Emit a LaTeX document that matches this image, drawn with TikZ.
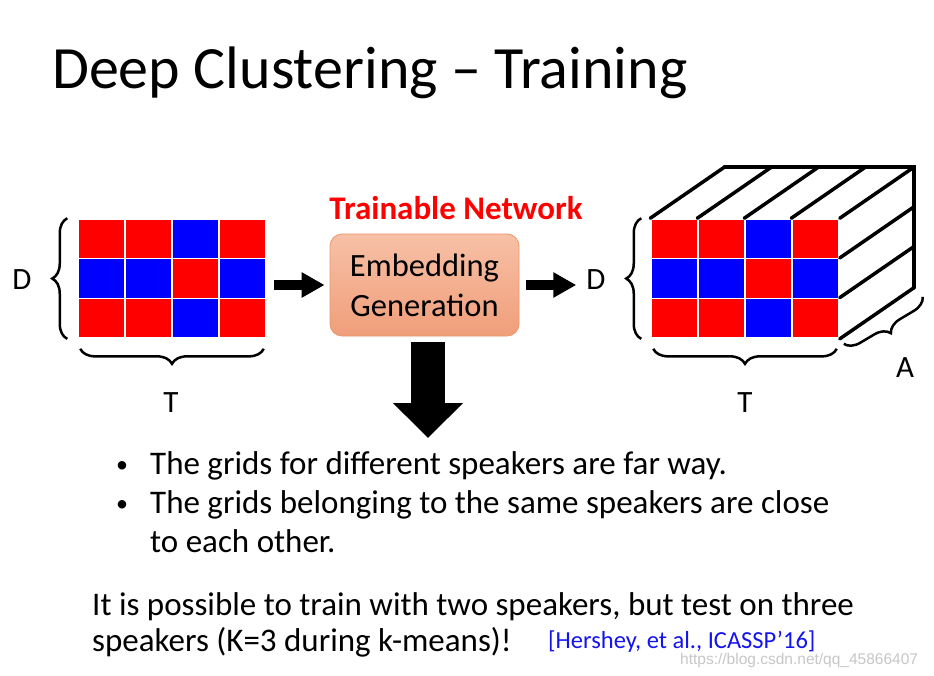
\documentclass[tikz,border=0pt]{standalone}
\usepackage{fontspec}
\setmainfont{Carlito}
\newfontfamily\wmfont{Liberation Sans}
\usetikzlibrary{arrows.meta,decorations.pathreplacing,positioning,calc}

\definecolor{cellred}{RGB}{255,0,0}
\definecolor{cellblue}{RGB}{0,0,255}
\definecolor{boxtop}{RGB}{247,192,166}
\definecolor{boxbot}{RGB}{240,158,122}
\definecolor{boxline}{RGB}{236,150,110}
\definecolor{citeblue}{RGB}{20,20,240}

\begin{document}
\begin{tikzpicture}[x=1pt, y=-1pt,
    cell/.style={draw=white, line width=1.5pt, minimum width=47pt, minimum height=39.7pt, inner sep=0pt},
    lbl/.style={font=\fontsize{31}{36}\selectfont, inner sep=0pt},
    brc/.style={decorate, decoration={brace, amplitude=15pt}, line width=2.5pt},
    fatarrow/.style={line width=10pt, -{Triangle[length=23pt, width=24pt]}},
    edge3d/.style={line width=3.5pt, line cap=round},
    txt/.style={anchor=base west, inner sep=0pt, font=\fontsize{33}{39}\selectfont},
    dot/.style={anchor=base, inner sep=0pt, font=\fontsize{24}{28}\selectfont},
]
% Page frame
\fill[white] (0,0) rectangle (934,676);
\useasboundingbox (0,0) rectangle (934,676);

% Title
\node[txt, font=\fontsize{60}{72}\selectfont] (title) at (52,89) {Deep Clustering – Training};

% Input spectrogram grid and embedding grid (front face)
\foreach \r/\row in {1/{cellred,cellred,cellblue,cellred}, 2/{cellblue,cellblue,cellred,cellblue}, 3/{cellred,cellred,cellblue,cellred}}
  \foreach \c [count=\k] in \row {
    \node[cell, fill=\c] (L-\r-\k) at ({78+47*(\k-0.5)}, {219+39.7*(\r-0.5)}) {};
    \node[cell, fill=\c] (R-\r-\k) at ({651+47*(\k-0.5)}, {219+39.7*(\r-0.5)}) {};
  }

% Braces of the input grid
\draw[brc] ([xshift=-10pt]L-3-1.south west) -- ([xshift=-10pt]L-1-1.north west);
\node[lbl] (dL) at (22,280) {D};
\draw[brc] ([xshift=-3pt, yshift=-10pt]L-3-4.south east) -- ([xshift=3pt, yshift=-10pt]L-3-1.south west);
\node[lbl] (tL) at (171,403) {T};

% Network block
\node[font=\fontsize{33}{38}\selectfont\bfseries, text=cellred, inner sep=0pt] (train) at (456,208) {Trainable Network};
\node[draw=boxline, line width=0.8pt, rounded corners=12pt, top color=boxtop, bottom color=boxbot,
      minimum width=189pt, minimum height=102pt, align=center,
      font=\fontsize{32.5}{40}\selectfont] (emb) at (424.5,285) {Embedding\\Generation};

% Right depth labels
\node[lbl] (dR) at (596,280) {D};
\node[lbl] (tR) at (745,403) {T};
\node[lbl] (aR) at (905,368) {A};

% Arrows
\draw[fatarrow, shorten <=7pt, shorten >=5pt] (L-2-4.east |- emb.west) -- (emb.west);
\draw[fatarrow, shorten <=7pt, shorten >=10pt] (emb.east) -- (emb.east -| dR.west);
\coordinate (dn) at (428,438);
\draw[line width=34pt, -{Triangle[length=35pt, width=68pt]}, shorten <=6pt] (dn |- emb.south) -- (dn);

% Depth of the embedding block
\coordinate (bk-tl) at ($(R-1-1.north west)+(74,-51)$);
\coordinate (bk-tr) at ($(R-1-4.north east)+(74,-51)$);
\coordinate (bk-br) at ($(R-3-4.south east)+(74,-51)$);
\foreach \k in {1,...,4}
  \draw[edge3d] (R-1-\k.north west) -- ++(74,-51);
\foreach \r in {1,2,3}
  \draw[edge3d] (R-\r-4.north east) -- ++(74,-51);
\draw[edge3d] (R-3-4.south east) -- (bk-br);
\draw[edge3d] (bk-tl) -- (bk-tr) -- (bk-br);

% Braces of the embedding block
\draw[brc] ([xshift=-9pt]R-3-1.south west) -- ([xshift=-9pt]R-1-1.north west);
\draw[brc] ([xshift=-3pt, yshift=-10pt]R-3-4.south east) -- ([xshift=3pt, yshift=-10pt]R-3-1.south west);
\draw[brc] ($(bk-br)+(9,9)$) -- ($(R-3-4.south east)+(4,5)$);

% Bullet points
\node[dot] (bl1) at (122,472) {•};
\node[txt] (b1) at (150,474) {The grids for different speakers are far way.};
\node[dot] (bl2) at (122,511) {•};
\node[txt] (b2) at (150,513) {The grids belonging to the same speakers are close};
\node[txt] (b3) at (150,552) {to each other.};

% Closing remark
\node[txt] (k1) at (92,615) {It is possible to train with two speakers, but test on three};
\node[txt] (k2) at (92,651) {speakers (K=3 during k-means)!};
\node[txt, font=\fontsize{24.5}{28}\selectfont, text=citeblue] (cite) at (548,648) {[Hershey, et al., ICASSP’16]};
\node[txt, font=\wmfont\fontsize{15.5}{18}\selectfont, text=black!22] (wm) at (680,664) {https://blog.csdn.net/qq\_45866407};
\end{tikzpicture}
\end{document}
